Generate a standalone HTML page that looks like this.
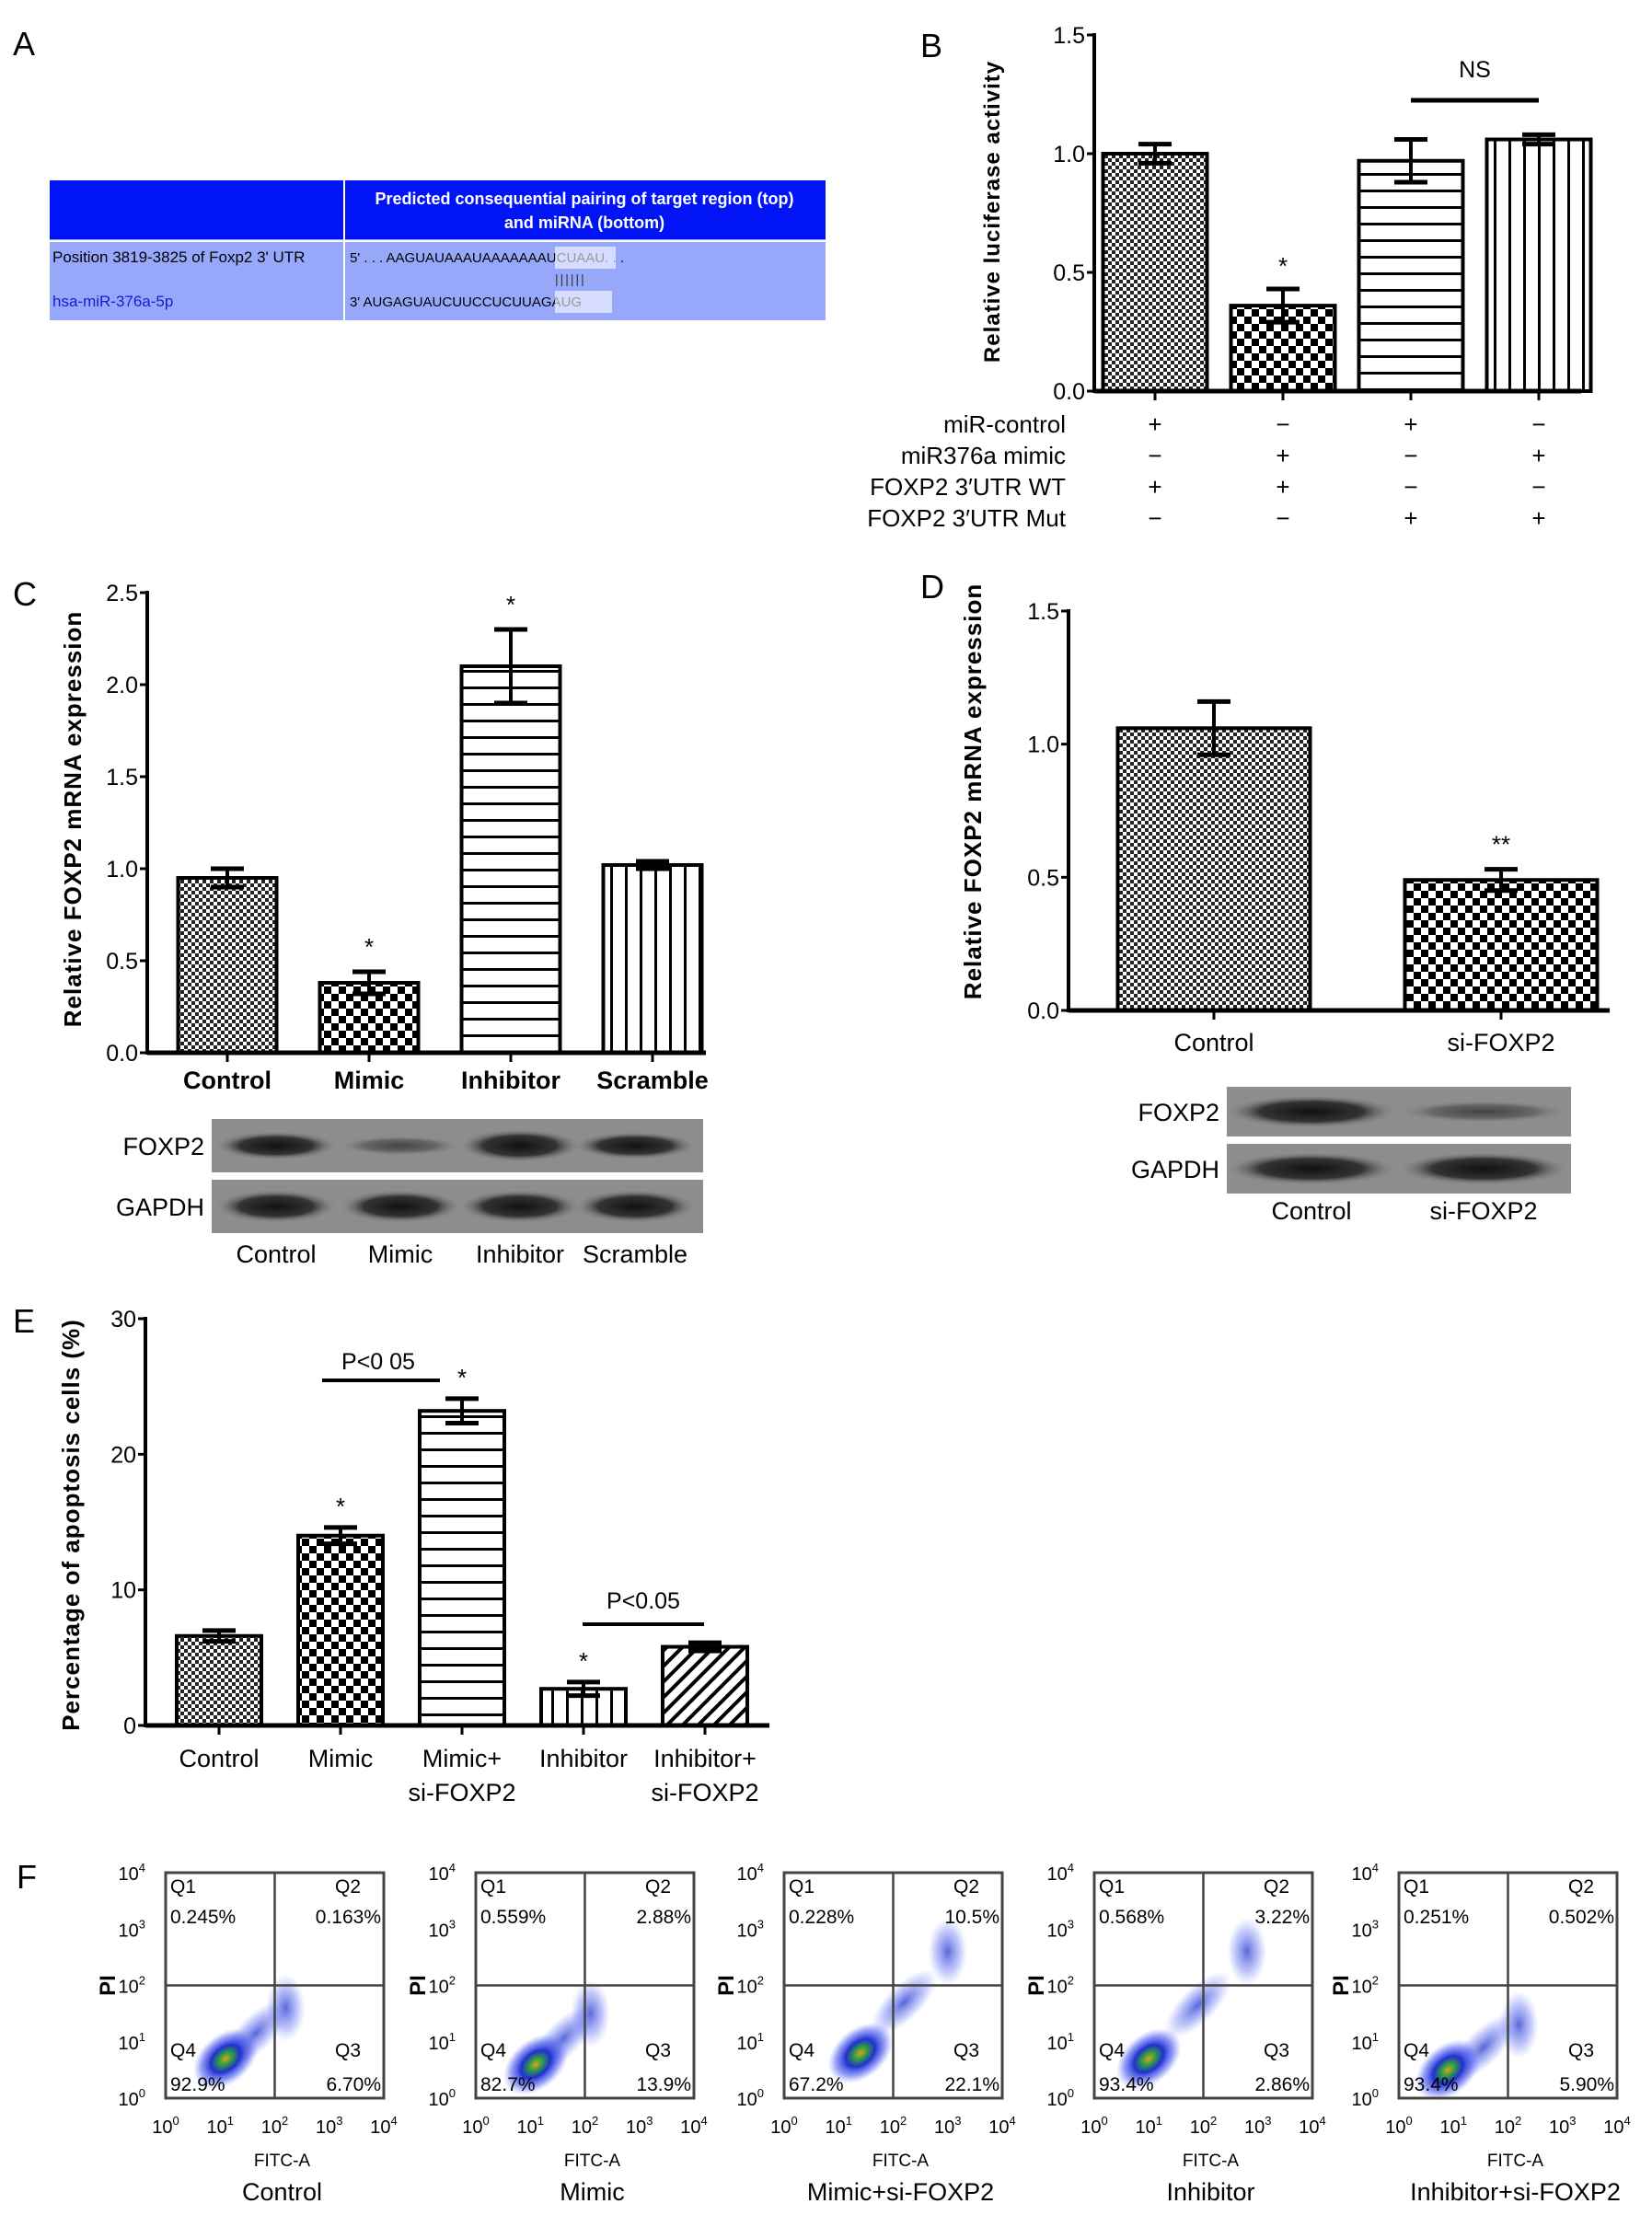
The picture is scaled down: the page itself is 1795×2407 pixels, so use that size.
<!DOCTYPE html>
<html><head><meta charset="utf-8"><style>
body{margin:0;background:#fff;width:1795px;height:2407px;overflow:hidden;font-family:"Liberation Sans",Arial,sans-serif}
svg{position:absolute;left:0;top:0}
text{font-family:"Liberation Sans",Arial,sans-serif}
</style></head><body>
<svg id="fig" width="1795" height="2407" xmlns="http://www.w3.org/2000/svg">
<defs>
<pattern id="pFine" width="8" height="8" patternUnits="userSpaceOnUse"><rect width="8" height="8" fill="#fff"/><rect width="4" height="4" fill="#222"/><rect x="4" y="4" width="4" height="4" fill="#222"/></pattern>
<pattern id="pCoarse" width="16" height="16" patternUnits="userSpaceOnUse"><rect width="16" height="16" fill="#fff"/><rect width="8" height="8" fill="#000"/><rect x="8" y="8" width="8" height="8" fill="#000"/></pattern>
<pattern id="pHoriz" width="10" height="18" patternUnits="userSpaceOnUse"><rect width="10" height="18" fill="#fff"/><rect y="8" width="10" height="3" fill="#000"/></pattern>
<pattern id="pVert" width="16" height="10" patternUnits="userSpaceOnUse"><rect width="16" height="10" fill="#fff"/><rect x="7" width="3" height="10" fill="#000"/></pattern>
<pattern id="pDiag" width="12" height="12" patternUnits="userSpaceOnUse" patternTransform="rotate(45)"><rect width="12" height="12" fill="#fff"/><rect width="4" height="12" fill="#000"/></pattern>
<radialGradient id="band"><stop offset="0" stop-color="#111"/><stop offset="0.6" stop-color="#333"/><stop offset="1" stop-color="#8c8c8c" stop-opacity="0"/></radialGradient>
<radialGradient id="bandL"><stop offset="0" stop-color="#444"/><stop offset="0.6" stop-color="#666"/><stop offset="1" stop-color="#8c8c8c" stop-opacity="0"/></radialGradient>
<radialGradient id="blob"><stop offset="0" stop-color="#e0a020"/><stop offset="0.2" stop-color="#30a040"/><stop offset="0.45" stop-color="#2030d0"/><stop offset="0.75" stop-color="#5060f0" stop-opacity="0.6"/><stop offset="1" stop-color="#8090ff" stop-opacity="0"/></radialGradient>
<radialGradient id="blobS"><stop offset="0" stop-color="#3040d0" stop-opacity="0.8"/><stop offset="0.6" stop-color="#6070f0" stop-opacity="0.4"/><stop offset="1" stop-color="#8090ff" stop-opacity="0"/></radialGradient>
</defs>

<!-- Panel A -->
<text x="14" y="60" font-size="36">A</text>
<g>
<rect x="54" y="196" width="843" height="152" fill="#97a8fb"/>
<rect x="54" y="196" width="843" height="64" fill="#0014f5"/>
<line x1="374" y1="196" x2="374" y2="348" stroke="#fff" stroke-width="2"/>
<line x1="54" y1="262" x2="897" y2="262" stroke="#fff" stroke-width="2"/>
<text x="635" y="222" font-size="18" font-weight="bold" fill="#fff" text-anchor="middle">Predicted consequential pairing of target region (top)</text>
<text x="635" y="248" font-size="18" font-weight="bold" fill="#fff" text-anchor="middle">and miRNA (bottom)</text>
<text x="57" y="285" font-size="17" fill="#000">Position 3819-3825 of Foxp2 3' UTR</text>
<text x="380" y="285" font-size="15" fill="#000">5'   . . . AAGUAUAAAUAAAAAAAUCUAAU. . .</text>
<rect x="603" y="268" width="66" height="24" fill="#fff" opacity="0.6"/>
<text x="603" y="308" font-size="14" fill="#333" letter-spacing="2">||||||</text>
<text x="57" y="333" font-size="17" fill="#1020d0">hsa-miR-376a-5p</text>
<text x="380" y="333" font-size="15" fill="#000">3'         AUGAGUAUCUUCCUCUUAGAUG</text>
<rect x="603" y="316" width="62" height="24" fill="#fff" opacity="0.6"/>
</g>

<text x="1000" y="62" font-size="36">B</text>
<text x="14" y="658" font-size="36">C</text>
<text x="1000" y="650" font-size="36">D</text>
<text x="14" y="1448" font-size="36">E</text>
<text x="18" y="2052" font-size="36">F</text>

<g id="charts"></g>
</svg>
<script>
const bCats=['g1','g2','g3','g4'];
const bVals=[1.0,0.36,0.97,1.06];
const bErr=[0.04,0.07,0.09,0.02];
const bTicks=['0.0','0.5','1.0','1.5'];
const bRows=['miR-control','miR376a mimic','FOXP2 3′UTR WT','FOXP2 3′UTR Mut'];
const bSigns=[['+','−','+','−'],['−','+','−','+'],['+','+','−','−'],['−','−','+','+']];

const cCats=['Control','Mimic','Inhibitor','Scramble'];
const cVals=[0.95,0.38,2.10,1.02];
const cErr=[0.05,0.06,0.20,0.02];
const cTicks=['0.0','0.5','1.0','1.5','2.0','2.5'];

const dCats=['Control','si-FOXP2'];
const dVals=[1.06,0.49];
const dErr=[0.10,0.04];
const dTicks=['0.0','0.5','1.0','1.5'];

const eCats=[['Control'],['Mimic'],['Mimic+','si-FOXP2'],['Inhibitor'],['Inhibitor+','si-FOXP2']];
const eVals=[6.6,14.0,23.2,2.7,5.8];
const eErr=[0.4,0.6,0.9,0.5,0.3];
const eTicks=['0','10','20','30'];

const fNames=['Control','Mimic','Mimic+si-FOXP2','Inhibitor','Inhibitor+si-FOXP2'];
const fQ1=['0.245%','0.559%','0.228%','0.568%','0.251%'];
const fQ2=['0.163%','2.88%','10.5%','3.22%','0.502%'];
const fQ3=['6.70%','13.9%','22.1%','2.86%','5.90%'];
const fQ4=['92.9%','82.7%','67.2%','93.4%','93.4%'];
const fClX=[1.1,1.1,1.4,1.0,0.9];
const fClY=[0.7,0.6,0.8,0.7,0.5];
const fApX=[2.2,2.1,3.0,2.8,2.2];
const fApY=[1.6,1.5,2.6,2.6,1.3];

const NS='http://www.w3.org/2000/svg';
const root=document.getElementById('charts');
function el(tag,attrs,parent,txt){const e=document.createElementNS(NS,tag);for(const k in attrs)e.setAttribute(k,attrs[k]);if(txt!==undefined)e.textContent=txt;(parent||root).appendChild(e);return e;}

function barChart(o){
  const g=el('g',{});
  
  
  const y=v=>o.y0-(v/o.max)*(o.y0-o.yTop);
  const x=i=>o.xs0+i*o.step;
  o.ticks.forEach((t,i)=>{const v=i*o.max/(o.ticks.length-1);const yy=y(v);
    el('line',{x1:o.ax-8,y1:yy,x2:o.ax,y2:yy,stroke:'#000','stroke-width':3},g);
    const tx=el('text',{x:o.ax-10,y:yy+9,'font-size':o.tf||25,'text-anchor':'end'},g,t);
    
    
  });
  o.vals.forEach((v,i)=>{
    const cx=x(i);
    const r=el('rect',{x:cx-o.bw/2,y:y(v),width:o.bw,height:o.y0-y(v),fill:'url(#'+o.pats[i]+')',stroke:'#000','stroke-width':4},g);
    
    
    const ey1=y(v+o.err[i]),ey2=y(v-o.err[i]);
    el('line',{x1:cx,y1:ey1,x2:cx,y2:ey2,stroke:'#000','stroke-width':4},g);
    el('line',{x1:cx-18,y1:ey1,x2:cx+18,y2:ey1,stroke:'#000','stroke-width':5},g);
    el('line',{x1:cx-18,y1:ey2,x2:cx+18,y2:ey2,stroke:'#000','stroke-width':5},g);
    el('line',{x1:cx,y1:o.y0,x2:cx,y2:o.y0+10,stroke:'#000','stroke-width':3},g);
    if(o.stars&&o.stars[i]){const s=el('text',{x:cx,y:ey1-o.starGap,'font-size':26,'text-anchor':'middle'},g,o.stars[i]);
      
      }
    if(o.cats){const lines=Array.isArray(o.cats[i])?o.cats[i]:[o.cats[i]];
      lines.forEach((ln,j)=>{const t=el('text',{x:cx,y:o.catY+j*37,'font-size':o.cf||27,'text-anchor':'middle','font-weight':o.cb?'bold':'normal'},g,ln);
        
        });}
  });
  el('line',{x1:o.ax,y1:o.yTop-2,x2:o.ax,y2:o.y0+2,stroke:'#000','stroke-width':4},g);
  el('line',{x1:o.ax,y1:o.y0,x2:o.axEnd,y2:o.y0,stroke:'#000','stroke-width':5},g);
  const tt=el('text',{x:0,y:0,'font-size':o.tsz||26,'font-weight':'bold','text-anchor':'middle','letter-spacing':'1',transform:`translate(${o.titleX},${o.titleY}) rotate(-90)`},g,o.title);
  
  
  return {g,y,x};
}

// Panel B
const B=barChart({name:'luciferase-chart',ax:1189,axEnd:1718,y0:425,yTop:38,max:1.5,ticks:bTicks,vals:bVals,err:bErr,xs0:1255,step:139,bw:113,
  pats:['pFine','pCoarse','pHoriz','pVert'],stars:['','*','',''],starGap:16,title:'Relative luciferase activity',titleX:1086,titleY:230,tsz:24});
el('line',{x1:B.x(2),y1:109,x2:B.x(3),y2:109,stroke:'#000','stroke-width':5},B.g);
el('text',{x:(B.x(2)+B.x(3))/2,y:84,'font-size':25,'text-anchor':'middle'},B.g,'NS');
bRows.forEach((r,ri)=>{const yy=470+ri*34;
  const t=el('text',{x:1158,y:yy,'font-size':26,'text-anchor':'end'},B.g,r);
  
  
  bSigns[ri].forEach((s,i)=>el('text',{x:B.x(i),y:yy,'font-size':26,'text-anchor':'middle'},B.g,s));
});

// Panel C
barChart({name:'foxp2-mrna-chart-c',ax:160,axEnd:767,y0:1144,yTop:644,max:2.5,ticks:cTicks,vals:cVals,err:cErr,xs0:247,step:154,bw:107,
  pats:['pFine','pCoarse','pHoriz','pVert'],stars:['','*','*',''],starGap:18,cats:cCats,catY:1183,cb:true,
  title:'Relative FOXP2 mRNA expression',titleX:88,titleY:890});

// Panel D
barChart({name:'foxp2-mrna-chart-d',ax:1161,axEnd:1749,y0:1098,yTop:664,max:1.5,ticks:dTicks,vals:dVals,err:dErr,xs0:1319,step:312,bw:209,
  pats:['pFine','pCoarse'],stars:['','**'],starGap:18,cats:dCats,catY:1142,
  title:'Relative FOXP2 mRNA expression',titleX:1066,titleY:860});

// Panel E
const E=barChart({name:'apoptosis-chart',ax:158,axEnd:836,y0:1875,yTop:1433,max:30,ticks:eTicks,vals:eVals,err:eErr,xs0:238,step:132,bw:92,
  pats:['pFine','pCoarse','pHoriz','pVert','pDiag'],stars:['','*','*','*',''],starGap:14,cats:eCats,catY:1920,
  title:'Percentage of apoptosis cells (%)',titleX:86,titleY:1657});
el('line',{x1:350,y1:1500,x2:478,y2:1500,stroke:'#000','stroke-width':4},E.g);
el('text',{x:411,y:1488,'font-size':25,'text-anchor':'middle'},E.g,'P<0 05');
el('line',{x1:633,y1:1765,x2:765,y2:1765,stroke:'#000','stroke-width':4},E.g);
el('text',{x:699,y:1748,'font-size':25,'text-anchor':'middle'},E.g,'P<0.05');

// Western blots
function blot(name,x0,w,yTop,h,gap,labelX,lanes,foxI,labs,labY){
  const g=el('g',{});
  
  
  [['FOXP2',0],['GAPDH',1]].forEach(([lb,k])=>{
    const yy=yTop+k*(h+gap);
    el('rect',{x:x0,y:yy,width:w,height:h,fill:'#8d8d8d'},g);
    lanes.forEach((lx,i)=>{const lt=(k==0&&foxI[i]<0.7)?'url(#bandL)':'url(#band)';
      el('ellipse',{cx:lx,cy:yy+h/2,rx:w/lanes.length*0.5,ry:k==0?12*foxI[i]+6:18,fill:lt},g);});
    el('text',{x:labelX,y:yy+h/2+10,'font-size':27,'text-anchor':'end'},g,lb);
  });
  labs.forEach((l,i)=>el('text',{x:lanes[i],y:labY,'font-size':27,'text-anchor':'middle'},g,l));
}
blot('western-blot-c',230,534,1216,58,8,222,[300,435,565,690],[0.8,0.4,1,0.75],cCats,1372);
blot('western-blot-d',1333,374,1181,54,8,1325,[1425,1612],[1,0.5],dCats,1325);

// Panel F flow plots
const fBoxX=[180,517,852,1189,1520];
const fW=237,fH=245,fTop=2035;
fNames.forEach((nm,p)=>{
  const g=el('g',{});
  
  
  const bx=fBoxX[p];
  const X=v=>bx+v/4*fW, Y=v=>fTop+fH-v/4*fH;
  const mx=(fClX[p]+fApX[p])/2, my=(fClY[p]+fApY[p])/2;
  el('ellipse',{cx:X(fApX[p]),cy:Y(fApY[p]),rx:fW*0.09,ry:fH*0.15,fill:'url(#blobS)'},g);
  el('ellipse',{cx:X(mx),cy:Y(my),rx:fW*0.2,ry:fH*0.08,fill:'url(#blobS)',transform:`rotate(-45 ${X(mx)} ${Y(my)})`},g);
  el('ellipse',{cx:X(fClX[p]),cy:Y(fClY[p]),rx:fW*0.17,ry:fH*0.11,fill:'url(#blob)',transform:`rotate(-40 ${X(fClX[p])} ${Y(fClY[p])})`},g);
  el('rect',{x:bx,y:fTop,width:fW,height:fH,fill:'none',stroke:'#444','stroke-width':3},g);
  el('line',{x1:X(2),y1:fTop,x2:X(2),y2:fTop+fH,stroke:'#444','stroke-width':2.5},g);
  el('line',{x1:bx,y1:Y(2),x2:bx+fW,y2:Y(2),stroke:'#444','stroke-width':2.5},g);
  el('text',{x:bx+5,y:fTop+22,'font-size':21},g,'Q1');
  el('text',{x:bx+5,y:fTop+55,'font-size':21},g,fQ1[p]);
  el('text',{x:bx+fW-25,y:fTop+22,'font-size':21,'text-anchor':'end'},g,'Q2');
  el('text',{x:bx+fW-3,y:fTop+55,'font-size':21,'text-anchor':'end'},g,fQ2[p]);
  el('text',{x:bx+5,y:fTop+fH-45,'font-size':21},g,'Q4');
  el('text',{x:bx+5,y:fTop+fH-8,'font-size':21},g,fQ4[p]);
  el('text',{x:bx+fW-25,y:fTop+fH-45,'font-size':21,'text-anchor':'end'},g,'Q3');
  el('text',{x:bx+fW-3,y:fTop+fH-8,'font-size':21,'text-anchor':'end'},g,fQ3[p]);
  for(let k=0;k<=4;k++){
    const t1=el('text',{x:X(k),y:fTop+fH+38,'font-size':20,'text-anchor':'middle'},g,'10');
    el('tspan',{dy:-9,'font-size':13},t1,String(k));
    const t2=el('text',{x:bx-22,y:Y(k)+8,'font-size':20,'text-anchor':'end'},g,'10');
    el('tspan',{dy:-9,'font-size':13},t2,String(k));
  }
  el('text',{x:0,y:0,'font-size':24,'font-weight':'bold','text-anchor':'middle',transform:`translate(${bx-55},${Y(2)}) rotate(-90)`},g,'PI');
  el('text',{x:bx+fW/2+8,y:2354,'font-size':19,'text-anchor':'middle'},g,'FITC-A');
  const n=el('text',{x:bx+fW/2+8,y:2391,'font-size':27,'text-anchor':'middle'},g,nm);
  
  
});
</script>
</body></html>
